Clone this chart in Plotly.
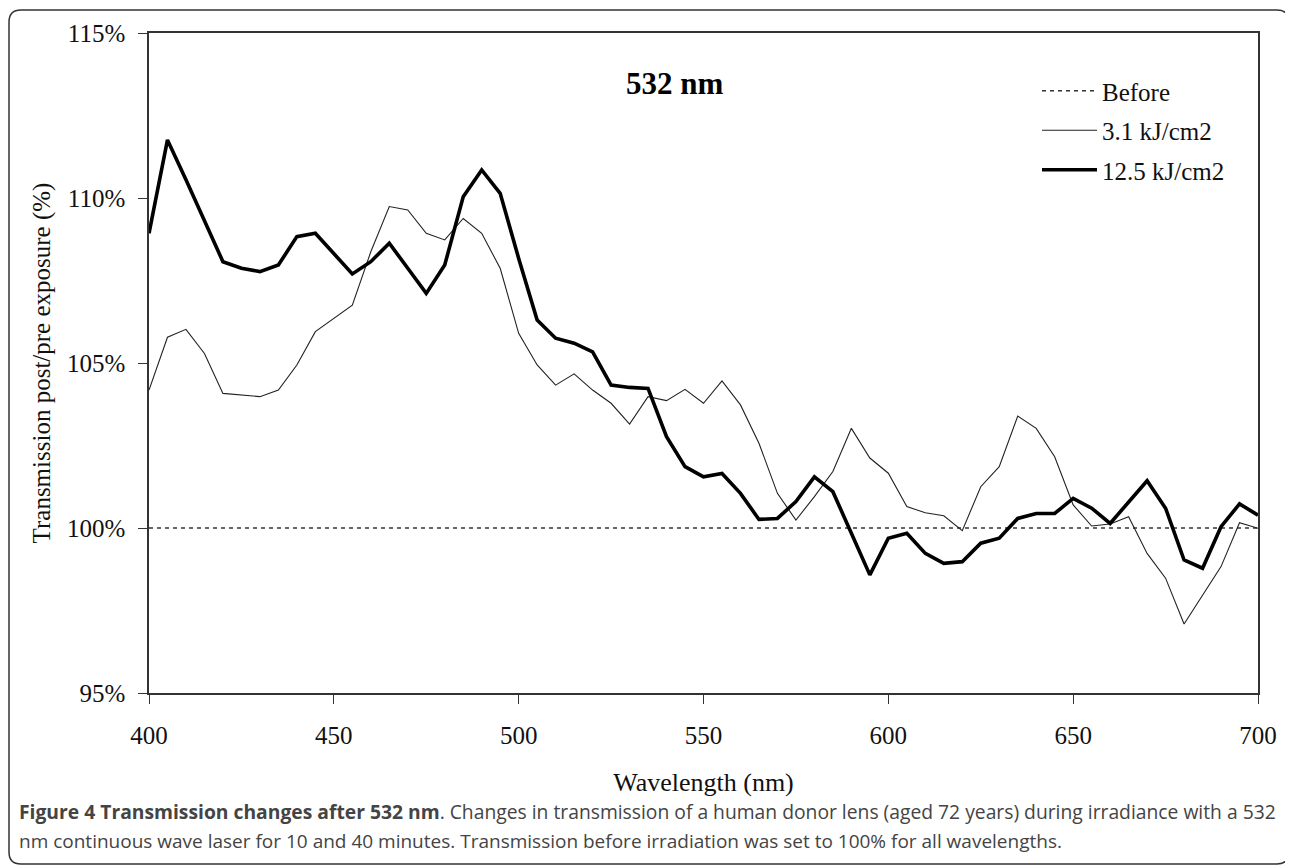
import plotly.graph_objects as go

# ---- data ----
wavelength = list(range(400, 701, 5))

before = [100.0] * len(wavelength)

dose_3_1 = [
    104.18, 105.78, 106.02, 105.29, 104.08, 104.02, 103.98, 104.18, 104.94, 105.95,
    106.35, 106.75, 108.37, 109.74, 109.64, 108.93, 108.73, 109.38, 108.93, 107.87,
    105.90, 104.94, 104.33, 104.67, 104.18, 103.78, 103.15, 103.98, 103.86, 104.20,
    103.78, 104.46, 103.73, 102.57, 101.05, 100.24, 100.95, 101.71, 103.02, 102.12,
    101.66, 100.65, 100.46, 100.37, 99.92, 101.25, 101.86, 103.39, 103.02, 102.16,
    100.70, 100.06, 100.12, 100.34, 99.23, 98.48, 97.09, 97.97, 98.83, 100.16,
    99.99,
]

dose_12_5 = [
    108.93, 111.76, 110.55, 109.33, 108.07, 107.87, 107.77, 107.97, 108.83, 108.93,
    108.32, 107.70, 108.07, 108.63, 107.87, 107.11, 107.97, 110.04, 110.85, 110.14,
    108.17, 106.30, 105.75, 105.60, 105.34, 104.33, 104.26, 104.23, 102.77, 101.86,
    101.55, 101.65, 101.05, 100.26, 100.29, 100.80, 101.55, 101.10, 99.84, 98.58,
    99.69, 99.84, 99.23, 98.93, 98.98, 99.54, 99.69, 100.29, 100.44, 100.44,
    100.90, 100.60, 100.14, 100.80, 101.43, 100.60, 99.03, 98.78, 100.04, 100.73,
    100.39,
]

x_ticks = [400, 450, 500, 550, 600, 650, 700]
y_ticks = [95, 100, 105, 110, 115]
y_tick_labels = ["95%", "100%", "105%", "110%", "115%"]

# ---- layout geometry ----
# Screen positions (1293x868 window); the page body adds an 8px offset,
# so the figure itself is drawn 8px smaller and shifted.
OFF = 8
W, H = 1293 - OFF, 868 - OFF
L, R, T, B = 149, 1258, 33, 693  # plot area, screen px


def px(xs):
    return (xs - L) / (R - L)


def py(ys):
    return (B - ys) / (B - T)


serif = "Liberation Serif, Times New Roman, serif"
sans = "Open Sans, Noto Sans, sans-serif"

fig = go.Figure()
fig.add_trace(go.Scatter(
    x=wavelength, y=before, mode="lines", name="Before", legendgroup="a",
    line=dict(color="#333333", width=1.3, dash="4px,4px"),
))
fig.add_trace(go.Scatter(
    x=wavelength, y=dose_3_1, mode="lines", name="3.1 kJ/cm2", legendgroup="b",
    line=dict(color="#222222", width=1.1),
))
fig.add_trace(go.Scatter(
    x=wavelength, y=dose_12_5, mode="lines", name="12.5 kJ/cm2", legendgroup="c",
    line=dict(color="#000000", width=3.6),
))

axis_common = dict(
    showgrid=False, zeroline=False, showline=True, linecolor="#333333", linewidth=1.5,
    mirror=True, ticks="outside", ticklen=9, tickwidth=1.3, tickcolor="#333333",
)

fig.update_xaxes(
    range=[400, 700], tickvals=x_ticks, ticktext=[str(v) for v in x_ticks],
    tickfont=dict(family=serif, size=25, color="#111111"),
    ticklabelstandoff=10,
    title=dict(text="Wavelength (nm)", font=dict(family=serif, size=26, color="#111111"),
               standoff=25),
    **axis_common,
)
fig.update_yaxes(
    range=[95, 115], tickvals=y_ticks, ticktext=y_tick_labels,
    tickfont=dict(family=serif, size=25, color="#111111"),
    ticklabelstandoff=8,
    title=dict(text="Transmission post/pre exposure (%)",
               font=dict(family=serif, size=25, color="#111111"), standoff=9),
    **axis_common,
)

# rounded frame around figure + caption
x0, x1, y0, y1, r = px(9), px(1289), py(10), py(864), 12
rx, ry = r / (R - L), r / (B - T)
frame = (
    f"M {x0 + rx},{y0} L {x1 - rx},{y0} Q {x1},{y0} {x1},{y0 - ry} "
    f"L {x1},{y1 + ry} Q {x1},{y1} {x1 - rx},{y1} "
    f"L {x0 + rx},{y1} Q {x0},{y1} {x0},{y1 + ry} "
    f"L {x0},{y0 - ry} Q {x0},{y0} {x0 + rx},{y0} Z"
)
fig.add_shape(type="path", xref="paper", yref="paper", path=frame,
              line=dict(color="#333333", width=1.5), layer="below")

fig.add_annotation(
    text="<b>532 nm</b>", xref="paper", yref="paper", x=px(674), y=py(83),
    showarrow=False, font=dict(family=serif, size=31, color="#000000"),
    xanchor="center", yanchor="middle",
)

fig.add_annotation(
    text=("<b>Figure 4 Transmission changes after 532 nm</b>. Changes in transmission of a human "
          "donor lens (aged 72 years) during irradiance with a 532"),
    xref="paper", yref="paper", x=px(17), y=py(812), xanchor="left", yanchor="middle",
    showarrow=False, font=dict(family=sans, size=19.3, color="#444444"),
)
fig.add_annotation(
    text=("nm continuous wave laser for 10 and 40 minutes. Transmission before irradiation was "
          "set to 100% for all wavelengths."),
    xref="paper", yref="paper", x=px(17), y=py(841), xanchor="left", yanchor="middle",
    showarrow=False, font=dict(family=sans, size=19, color="#444444"),
)

fig.update_layout(
    width=W, height=H,
    margin=dict(l=L - OFF, r=W - (R - OFF), t=T - OFF, b=H - (B - OFF), pad=0),
    paper_bgcolor="white", plot_bgcolor="white",
    showlegend=True,
    legend=dict(
        x=px(1037), y=py(68), xanchor="left", yanchor="top",
        font=dict(family=serif, size=25, color="#111111"),
        bgcolor="rgba(0,0,0,0)", tracegroupgap=4, itemwidth=55,
    ),
)

fig.write_html("out.html")
